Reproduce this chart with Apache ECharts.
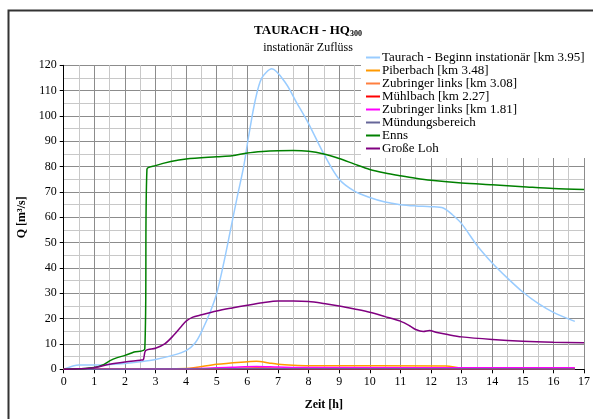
<!DOCTYPE html>
<html>
<head>
<meta charset="utf-8">
<script src="https://cdn.jsdelivr.net/npm/echarts@6/dist/echarts.min.js"></script>
<style>
  html, body { margin: 0; padding: 0; background: #fff; }
  #chart { width: 593px; height: 419px; }
</style>
</head>
<body>
<div id="chart"></div>
<script>
// Zeit [h] / Q [m3/s] pairs
const taurach = [[0,0],[0.5,1.7],[1,1.7],[1.5,1.9],[2,2.3],[2.5,3],[3,3.9],[3.5,5.3],[4,7.4],[4.3,10.5],[4.53,15.5],[4.8,23],[5,30],[5.23,42],[5.45,55],[5.66,67.5],[5.88,80],[6.04,91.8],[6.26,106.3],[6.47,114.9],[6.8,118.6],[7.25,113],[7.6,105.5],[8,97],[8.5,85],[9,75],[9.5,70.3],[10,67.8],[10.5,66],[11,65],[11.5,64.5],[12,64.2],[12.4,63.7],[12.7,61],[13,57.5],[13.5,49],[14,42],[14.5,36],[15,30.5],[15.5,26],[16,22.5],[16.7,18.9]];
const piberbach = [[0,0],[4,0.3],[5,2],[6,3],[6.3,3.2],[6.7,2.5],[7,2],[7.5,1.6],[8,1.4],[12.5,1.3],[13,0.6],[16.7,0.5]];
const zubringer308 = [[0,0],[4,0.1],[6.3,0.6],[8,0.3],[16.7,0.2]];
const muehlbach = [[0,0],[5,0.1],[6.5,0.3],[8,0.15],[16.7,0.1]];
const zubringer181 = [[0,0],[4,0.2],[5.5,0.8],[6.3,1.1],[7,0.9],[8,0.7],[16.7,0.6]];
const muendung = [[0,0],[6,0.2],[16.7,0.1]];
const enns = [[0,0],[0.5,0.2],[1,0.7],[1.3,1.8],[1.5,3.3],[1.75,4.6],[2,5.5],[2.3,6.8],[2.65,8.1],[2.72,79],[3,80.4],[3.5,82],[4,83],[5,83.9],[5.5,84.3],[6,85.4],[6.5,86],[7,86.3],[7.5,86.4],[8,86.1],[8.5,85],[9,83.2],[9.5,81],[10,78.9],[10.5,77.5],[11,76.4],[11.5,75.4],[12,74.6],[13,73.5],[14,72.8],[15,72.1],[16,71.4],[17,71]];
const grosseLoh = [[0,0],[0.5,0.2],[1,0.65],[1.5,2],[2,2.9],[2.5,3.6],[2.6,3.8],[2.68,7.4],[3,8.3],[3.3,10],[3.6,13.5],[3.85,17],[4,19],[4.2,20.5],[4.5,21.5],[5,23],[5.5,24.2],[6,25.3],[6.5,26.3],[7,27],[7.5,27],[8,26.8],[8.5,26],[9,25],[9.5,23.8],[10,22.5],[10.5,20.8],[11,19],[11.3,17.2],[11.5,15.7],[11.75,14.9],[11.95,15.3],[12.2,14.5],[12.5,13.8],[13,12.8],[14,11.8],[15,11.1],[16,10.7],[17,10.5]];

const seriesNames = ['Taurach - Beginn instationär [km 3.95]','Piberbach [km 3.48]','Zubringer links [km 3.08]','Mühlbach [km 2.27]','Zubringer links [km 1.81]','Mündungsbereich','Enns','Große Loh'];
const seriesData = [taurach, piberbach, zubringer308, muehlbach, zubringer181, muendung, enns, grosseLoh];
const seriesColors = ['#99ccff','#ff9900','#ff7f3f','#ff0000','#ff00ff','#666699','#008000','#800080'];

const serif = '"Liberation Serif", "DejaVu Serif", serif';

const myChart = echarts.init(document.getElementById('chart'));

const option = {
  animation: false,
  textStyle: { fontFamily: serif, color: '#000' },
  graphic: [{
    type: 'rect',
    shape: { x: 8.5, y: 10.5, width: 620, height: 440 },
    style: { fill: 'none', stroke: '#333', lineWidth: 2 },
    silent: true
  }],
  title: {
    left: 303,
    top: 19,
    textAlign: 'center',
    text: '{a|TAURACH - HQ}{b|300}',
    textStyle: {
      rich: {
        a: { fontFamily: serif, fontSize: 13, fontWeight: 'bold', color: '#000', verticalAlign: 'bottom' },
        b: { fontFamily: serif, fontSize: 8, fontWeight: 'bold', color: '#000', verticalAlign: 'bottom', padding: [0,0,-1,0] }
      }
    },
    subtext: 'instationär Zuflüss',
    subtextStyle: { fontFamily: serif, fontSize: 12, color: '#000' },
    itemGap: 4
  },
  legend: {
    orient: 'vertical',
    left: 361,
    top: 49,
    padding: [2, 30, 3, 5],
    backgroundColor: '#fff',
    itemGap: 0,
    itemWidth: 14,
    itemHeight: 2,
    icon: 'rect',
    data: seriesNames,
    textStyle: { fontFamily: serif, fontSize: 13, color: '#000', lineHeight: 12.4, padding: [0,0,0,-3] }
  },
  grid: { left: 63.7, right: 5, top: 65.3, bottom: 49.7 },
  xAxis: {
    type: 'value',
    min: 0, max: 17, interval: 1,
    name: 'Zeit [h]',
    nameLocation: 'middle',
    nameGap: 30,
    nameTextStyle: { fontFamily: serif, fontSize: 12, fontWeight: 'bold', color: '#000' },
    axisLine: { show: true, onZero: false, lineStyle: { color: '#000', width: 1 } },
    axisTick: { show: true, length: 4, lineStyle: { color: '#000' } },
    axisLabel: { fontFamily: serif, fontSize: 12, color: '#000', margin: 7 },
    splitLine: { show: true, lineStyle: { color: '#8c8c8c', width: 1 } },
    minorTick: { show: false, splitNumber: 2 },
    minorSplitLine: { show: true, lineStyle: { color: '#c8c8c8', width: 1 } }
  },
  yAxis: {
    type: 'value',
    min: 0, max: 120, interval: 10,
    name: 'Q [m³/s]',
    nameLocation: 'middle',
    nameRotate: 90,
    nameGap: 28,
    nameTextStyle: { fontFamily: serif, fontSize: 12, fontWeight: 'bold', color: '#000' },
    axisLine: { show: true, lineStyle: { color: '#000', width: 1 } },
    axisTick: { show: true, length: 4, lineStyle: { color: '#000' } },
    axisLabel: { fontFamily: serif, fontSize: 12, color: '#000', margin: 7 },
    splitLine: { show: true, lineStyle: { color: '#8c8c8c', width: 1 } },
    minorTick: { show: false, splitNumber: 2 },
    minorSplitLine: { show: true, lineStyle: { color: '#c8c8c8', width: 1 } }
  },
  series: seriesNames.map((name, i) => ({
    name: name,
    type: 'line',
    data: seriesData[i],
    symbol: 'none',
    smooth: 0.3,
    z: 2 + i,
    itemStyle: { color: seriesColors[i] },
    lineStyle: { color: seriesColors[i], width: 1.5 }
  }))
};

myChart.setOption(option);
</script>
</body>
</html>
